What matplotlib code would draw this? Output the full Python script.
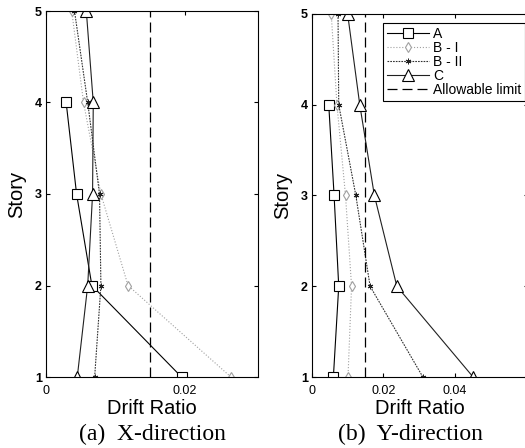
import numpy as np
import matplotlib
matplotlib.use("Agg")
import matplotlib.pyplot as plt

plt.rcParams['font.family'] = ['Liberation Sans', 'DejaVu Sans']

# story levels
stories = [1, 2, 3, 4, 5]
stories_a = [1, 2, 3, 4]

# X-direction drift ratios
x_a = [0.0195, 0.0066, 0.0044, 0.0029]
x_b1 = [0.0266, 0.0118, 0.0079, 0.0054, 0.0037]
x_b2 = [0.0070, 0.0079, 0.0077, 0.0060, 0.0041]
x_c = [0.0045, 0.0060, 0.0067, 0.0068, 0.0058]

# Y-direction drift ratios
y_a = [0.0060, 0.0075, 0.0062, 0.0047]
y_b1 = [0.0101, 0.0111, 0.0094, 0.0070, 0.0054]
y_b2 = [0.0311, 0.0163, 0.0123, 0.0075, 0.0073]
y_c = [0.0452, 0.0238, 0.0175, 0.0134, 0.0100]

limit = 0.015
labels = ['A', 'B - I', 'B - II', 'C', 'Allowable limit']

fig = plt.figure(figsize=(5.25, 4.48), dpi=100)
ax1 = fig.add_axes([46/525, 71/448, 212/525, 366/448])
ax2 = fig.add_axes([312/525, 71/448, 216/525, 363/448])


def draw(ax, a, b1, b2, c, xmax, xticks):
    ax.plot(a, stories_a, color='black', lw=0.8, marker='s', ms=7,
            mfc='white', mec='black', mew=0.8)
    ax.plot(b1, stories, color='#a0a0a0', lw=0.8, ls=':', marker='d', ms=5,
            mfc='white', mec='#a0a0a0', mew=0.8)
    ax.plot(b2, stories, color='#303030', lw=0.8, ls=(0, (1.5, 1)),
            marker=(6, 2, 0), ms=4, mec='#202020', mew=0.7)
    ax.plot(c, stories, color='#202020', lw=0.8, marker='^', ms=8,
            mfc='white', mec='black', mew=0.8)
    ax.axvline(limit, color='black', lw=0.9, ls=(0, (8, 4)))
    ax.set_xlim(0, xmax)
    ax.set_ylim(1, 5)
    ax.set_xticks(xticks)
    ax.set_xticklabels([('0' if t == 0 else '%g' % t) for t in xticks])
    ax.set_yticks(stories)
    ax.tick_params(direction='in', length=3, width=0.8, top=True, right=True,
                   labelsize=9)
    ax.tick_params(axis='x', pad=6)
    ax.tick_params(axis='y', pad=3)
    for t in ax.get_yticklabels():
        t.set_fontweight('bold')
    for s in ax.spines.values():
        s.set_linewidth(0.8)
    ax.set_xlabel('Drift Ratio', fontsize=14.5, labelpad=1)
    ax.set_ylabel('Story', fontsize=14.5, labelpad=6)


draw(ax1, x_a, x_b1, x_b2, x_c, 0.0305, [0, 0.02])
draw(ax2, y_a, y_b1, y_b2, y_c, 0.0606, [0, 0.02, 0.04])

leg = ax2.legend(ax2.get_lines(), labels, loc='upper left',
                 bbox_to_anchor=(383/525, 1 - 23/448), bbox_transform=fig.transFigure,
                 fontsize=10, frameon=True, fancybox=False, framealpha=1,
                 edgecolor='black', labelspacing=0.0, handlelength=3.0,
                 handletextpad=0.3, borderpad=0.3, borderaxespad=0)
leg.get_frame().set_linewidth(0.8)

fig.text(152/525, 1 - 434/448, '(a)  X-direction', ha='center', va='center',
         family='Liberation Serif', fontsize=17)
fig.text(410/525, 1 - 434/448, '(b)  Y-direction', ha='center', va='center',
         family='Liberation Serif', fontsize=17)

fig.savefig('out.png', dpi=100)
